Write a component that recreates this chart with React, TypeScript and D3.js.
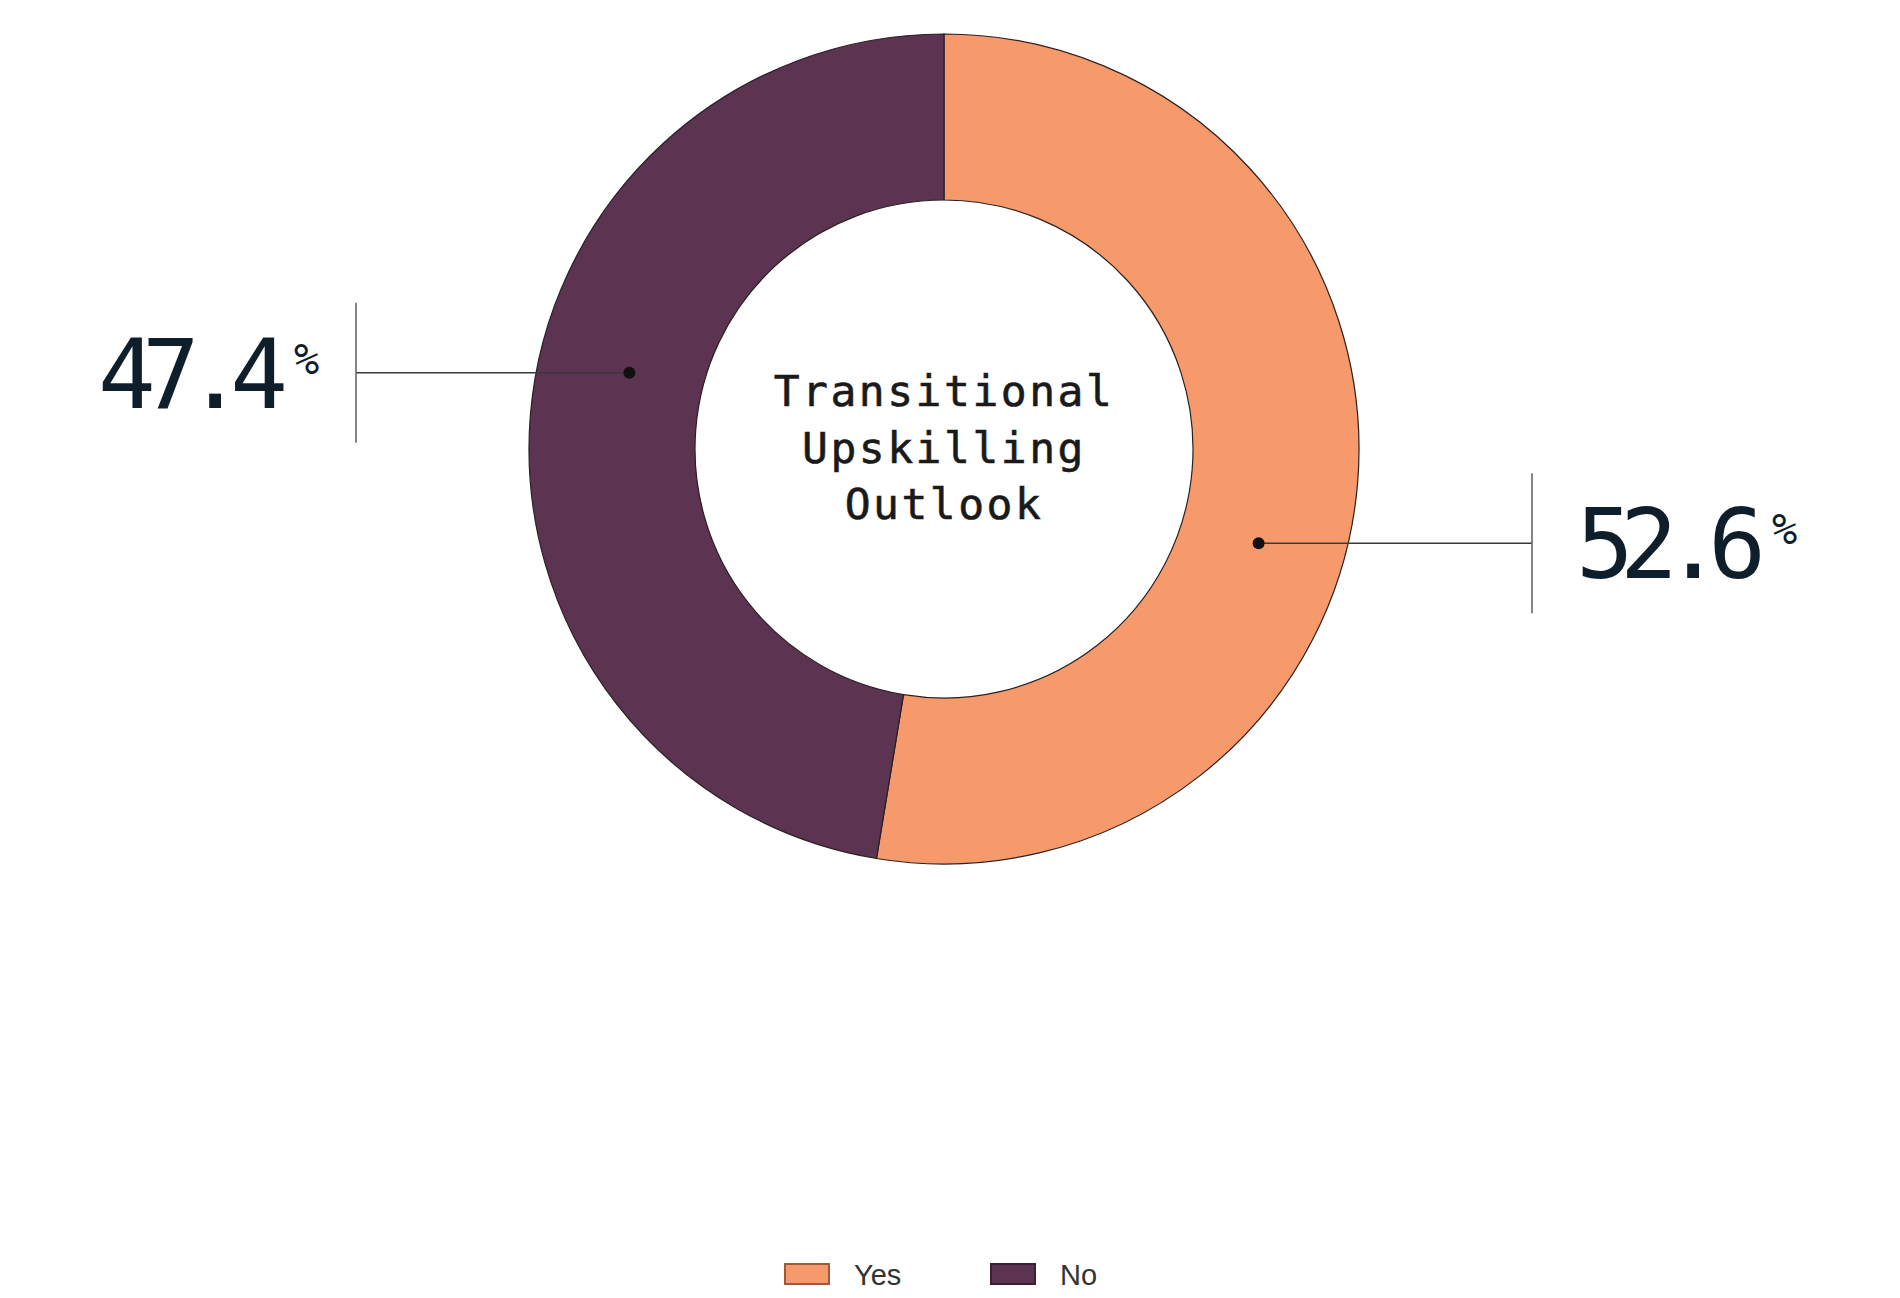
import React from "react";
import * as d3 from "d3";

const categories = ["Yes", "No"];
const values = [52.6, 47.4];
const colors = ["#F79A6B", "#5C3350"];
const titleLines = ["Transitional", "Upskilling", "Outlook"];

const W = 1900;
const H = 1298;
const cx = 944;
const cy = 449;
const outerR = 415;
const innerR = 249;

export default function App() {
  const pie = d3
    .pie<number>()
    .sort(null)
    .value((d) => d);
  const arcs = pie(values);
  const arcGen = d3
    .arc<d3.PieArcDatum<number>>()
    .innerRadius(innerR)
    .outerRadius(outerR);

  const midR = (innerR + outerR) / 2 - 6;
  const angleOffset = (10.5 * Math.PI) / 180;
  const labelDy = 9;
  const lineDX = 588;

  const color = d3.scaleOrdinal<string, string>().domain(categories).range(colors);

  return (
    <svg
      width={W}
      height={H}
      style={{ position: "absolute", left: 0, top: 0, background: "#fff" }}
    >
      <g transform={`translate(${cx},${cy})`}>
        {arcs.map((a, i) => (
          <path
            key={categories[i]}
            d={arcGen(a) || ""}
            fill={color(categories[i])}
            stroke="#2b1f22"
            strokeWidth={1.2}
          />
        ))}
        {titleLines.map((t, i) => (
          <text
            key={t}
            x={0}
            y={-43 + i * 56.5}
            textAnchor="middle"
            fontFamily="'DejaVu Sans Mono', monospace"
            fontSize={43}
            letterSpacing={2.5}
            stroke="#1a1a1a"
            strokeWidth={0.6}
            fill="#1a1a1a"
          >
            {t}
          </text>
        ))}
        {arcs.map((a, i) => {
          const ang = (a.startAngle + a.endAngle) / 2 + angleOffset;
          const px = midR * Math.sin(ang);
          const py = -midR * Math.cos(ang) + labelDy;
          const right = px > 0;
          const lx = right ? lineDX : -lineDX;
          const label = values[i].toFixed(1);
          const numW = 190;
          const numX = right ? lx + 44 : lx - 258;
          return (
            <g key={"lab" + i}>
              <line x1={px} y1={py} x2={lx} y2={py} stroke="#3a3a3a" strokeWidth={1.5} />
              <line x1={lx} y1={py - 70} x2={lx} y2={py + 70} stroke="#666" strokeWidth={1.6} />
              <circle cx={px} cy={py} r={6} fill="#111" />
              <text
                x={numX}
                y={py + 35}
                fontFamily="'DejaVu Sans Mono', monospace"
                fontSize={96}
                textLength={numW}
                lengthAdjust="spacing"
                fill="#0f1e2b"
              >
                {label}
              </text>
              <text
                x={numX + numW + 6}
                y={py + 1}
                fontFamily="'DejaVu Sans Mono', monospace"
                fontSize={42}
                fill="#0f1e2b"
              >
                %
              </text>
            </g>
          );
        })}
      </g>
      <g fontFamily="'Liberation Sans', Arial, sans-serif" fontSize={29} fill="#333">
        {categories.map((c, i) => {
          const x = 785 + i * 206;
          return (
            <g key={"leg" + c}>
              <rect
                x={x}
                y={1264}
                width={44}
                height={20}
                fill={color(c)}
                stroke={i === 0 ? "#a0583a" : "#3b1f33"}
                strokeWidth={2}
              />
              <text x={x + 69} y={1285}>
                {c}
              </text>
            </g>
          );
        })}
      </g>
    </svg>
  );
}
